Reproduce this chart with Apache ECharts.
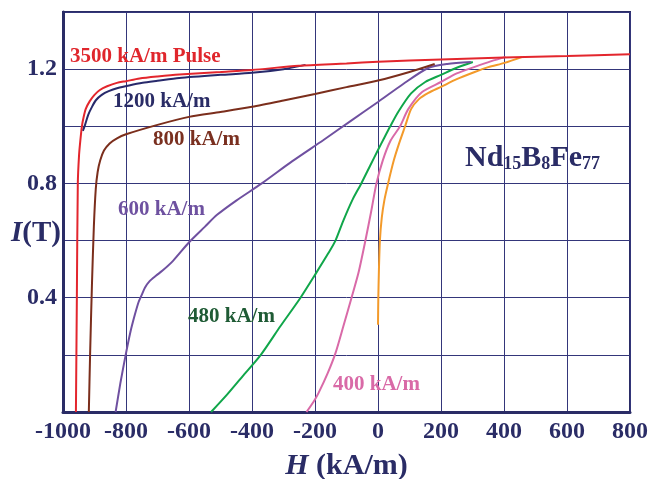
<!DOCTYPE html>
<html>
<head>
<meta charset="utf-8">
<script src="https://cdn.jsdelivr.net/npm/echarts@6/dist/echarts.min.js"></script>
<style>html,body{margin:0;padding:0;background:#fff}#c{width:650px;height:479px}</style>
</head>
<body>
<div id="c"></div>
<script>
// ---- data ----
var xTicks = [-1000, -800, -600, -400, -200, 0, 200, 400, 600, 800];
var yTickLabels = ['0.4', '0.8', '1.2'];

var pulseH = [-959, -956, -953, -949, -945, -940, -935, -928, -915, -900, -883, -860, -829, -800, -757, -700, -631, -500, -400, -252, -100, 0, 200, 400, 600, 800];
var pulseI = [0, 0.4, 0.8, 0.9, 0.95, 1.0, 1.03, 1.06, 1.088, 1.11, 1.127, 1.14, 1.152, 1.158, 1.167, 1.174, 1.181, 1.19, 1.197, 1.212, 1.22, 1.226, 1.234, 1.241, 1.246, 1.252];

var h1200H = [-937, -930, -920, -908, -895, -877, -855, -826, -790, -747, -700, -631, -500, -400, -300, -230];
var h1200I = [0.984, 1.005, 1.04, 1.068, 1.092, 1.11, 1.123, 1.134, 1.143, 1.152, 1.159, 1.169, 1.18, 1.187, 1.2, 1.215];

var h800H = [-918, -914, -908, -902, -896, -890, -882, -870, -852, -830, -800, -700, -600, -500, -400, -300, -200, -100, 0, 100, 180];
var h800I = [0, 0.2, 0.45, 0.65, 0.78, 0.84, 0.88, 0.915, 0.94, 0.957, 0.972, 1.005, 1.033, 1.05, 1.068, 1.09, 1.113, 1.137, 1.16, 1.19, 1.218];

var h600H = [-833, -818, -801, -786, -772, -760, -750, -740, -725, -705, -684, -650, -599, -550, -511, -450, -369, -273, -173, -85, 0, 80, 159, 220, 295];
var h600I = [0, 0.1, 0.2, 0.28, 0.34, 0.385, 0.41, 0.435, 0.458, 0.477, 0.495, 0.53, 0.595, 0.648, 0.69, 0.74, 0.8, 0.877, 0.952, 1.02, 1.085, 1.148, 1.204, 1.218, 1.225];

var h480H = [-530, -480, -430, -372, -310, -246, -200, -157, -135, -110, -80, -53, -25, 0, 20, 39, 64, 105, 150, 200, 250, 301];
var h480I = [0, 0.06, 0.125, 0.2, 0.3, 0.4, 0.48, 0.557, 0.6, 0.67, 0.745, 0.8, 0.862, 0.917, 0.96, 1.0, 1.05, 1.115, 1.155, 1.18, 1.205, 1.225];

var h400H = [-227, -205, -189, -160, -135, -110, -84, -62, -40, -22, -5, 15, 40, 70, 96, 140, 200, 250, 307, 360, 405];
var h400I = [0, 0.035, 0.066, 0.135, 0.206, 0.3, 0.4, 0.487, 0.6, 0.7, 0.8, 0.88, 0.95, 1.0, 1.06, 1.12, 1.155, 1.185, 1.208, 1.228, 1.243];

var h400bH = [0, 1, 3, 6, 12, 20, 32, 50, 67, 86, 105, 130, 160, 200, 250, 307, 350, 402, 459];
var h400bI = [0.305, 0.4, 0.5, 0.6, 0.68, 0.74, 0.8, 0.88, 0.94, 1.0, 1.06, 1.095, 1.117, 1.138, 1.165, 1.19, 1.207, 1.222, 1.243];

var curveLabels = ['3500 kA/m Pulse', '1200 kA/m', '800 kA/m', '600 kA/m', '480 kA/m', '400 kA/m'];

// ---- chart ----
var NAVY = '#2a2c66';
var FONT = "'Liberation Serif', 'Times New Roman', serif";
function pts(h, i) { return h.map(function (v, k) { return [v, i[k]]; }); }
function line(name, h, i, color) {
  return { name: name, type: 'line', data: pts(h, i), showSymbol: false, smooth: 0.25,
    lineStyle: { color: color, width: 2 }, z: 3, animation: false };
}
var chart = echarts.init(document.getElementById('c'), null, { renderer: 'canvas' });
function lbl(text, x, y, color) {
  return { type: 'text', left: x, top: y, style: { text: text, fill: color, font: 'bold 21px ' + FONT }, z: 10 };
}
chart.setOption({
  animation: false,
  backgroundColor: '#fff',
  grid: { left: 63, right: 20, top: 12, bottom: 67, show: true, borderColor: NAVY, borderWidth: 2,
    containLabel: false, outerBoundsMode: 'none' },
  xAxis: {
    type: 'value', min: -1000, max: 800, interval: 200,
    name: '{i|H} (kA/m)', nameLocation: 'middle', nameGap: 39, nameMoveOverlap: false,
    nameTextStyle: { color: NAVY, fontFamily: FONT, fontWeight: 'bold', fontSize: 30,
      rich: { i: { fontStyle: 'italic', fontWeight: 'bold', fontSize: 30, fontFamily: FONT, color: NAVY } } },
    axisLine: { show: true, onZero: false, lineStyle: { color: NAVY, width: 3 } },
    axisTick: { show: false },
    axisLabel: { color: NAVY, fontFamily: FONT, fontWeight: 'bold', fontSize: 24, margin: 8,
      formatter: function (v) { return xTicks.indexOf(v) >= 0 ? String(v) : ''; } },
    splitLine: { show: true, lineStyle: { color: '#34367a', width: 1 } }
  },
  yAxis: {
    type: 'value', min: 0, max: 1.4, interval: 0.2,
    name: '{i|I}(T)', nameLocation: 'middle', nameRotate: 0, nameGap: 2, nameMoveOverlap: false,
    nameTextStyle: { color: NAVY, fontFamily: FONT, fontWeight: 'bold', fontSize: 29, padding: [44, 0, 0, 0],
      rich: { i: { fontStyle: 'italic', fontWeight: 'bold', fontSize: 29, fontFamily: FONT, color: NAVY } } },
    axisLine: { show: true, onZero: false, lineStyle: { color: NAVY, width: 3 } },
    axisTick: { show: false },
    axisLabel: { color: NAVY, fontFamily: FONT, fontWeight: 'bold', fontSize: 24, margin: 6,
      formatter: function (v) { var s = v.toFixed(1); return yTickLabels.indexOf(s) >= 0 ? s : ''; } },
    splitLine: { show: true, lineStyle: { color: '#34367a', width: 1 } }
  },
  series: [
    line(curveLabels[5] + ' (b)', h400bH, h400bI, '#f39a2a'),
    line(curveLabels[5], h400H, h400I, '#d96aa8'),
    line(curveLabels[4], h480H, h480I, '#10a64a'),
    line(curveLabels[3], h600H, h600I, '#6f50a0'),
    line(curveLabels[2], h800H, h800I, '#7b2e1c'),
    line(curveLabels[1], h1200H, h1200I, '#27296b'),
    line(curveLabels[0], pulseH, pulseI, '#e3262d')
  ],
  graphic: [
    lbl(curveLabels[0], 70, 46, '#e0262c'),
    lbl(curveLabels[1], 113, 91, '#2a2c66'),
    lbl(curveLabels[2], 153, 129, '#7a3020'),
    lbl(curveLabels[3], 118, 199, '#6e51a0'),
    lbl(curveLabels[4], 188, 306, '#1f5b35'),
    lbl(curveLabels[5], 333, 374, '#d96aa7'),
    { type: 'text', left: 465, top: 143, z: 10,
      style: { text: '{m|Nd}{s|15}{m|B}{s|8}{m|Fe}{s|77}',
        rich: {
          m: { fontFamily: FONT, fontWeight: 'bold', fontSize: 30, lineHeight: 30, padding: [0, 0, 9, 0], fill: NAVY, verticalAlign: 'top' },
          s: { fontFamily: FONT, fontWeight: 'bold', fontSize: 18, lineHeight: 18, fill: NAVY, verticalAlign: 'bottom' }
        } } }
  ]
});
</script>
</body>
</html>
